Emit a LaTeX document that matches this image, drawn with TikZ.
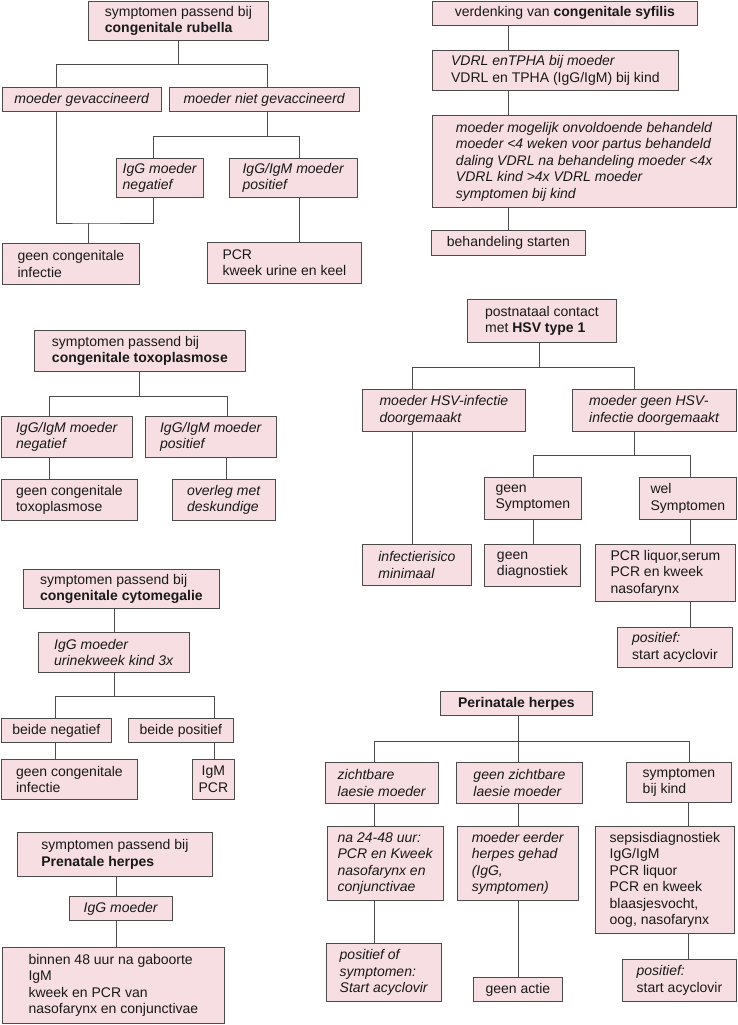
\documentclass[tikz,border=0pt]{standalone}
\usepackage{fontspec}
\setmainfont{Liberation Sans}
\usepackage{xcolor}
\usepackage{tikz}
\usetikzlibrary{positioning,calc}
\definecolor{boxpink}{RGB}{246,222,226}
\definecolor{linegray}{RGB}{75,75,75}
\tikzset{
  box/.style={draw=linegray, fill=boxpink, line width=0.8pt, anchor=north west, align=left, inner sep=0pt, font=\fontsize{14}{16.5}\selectfont, text=black!90},
  link/.style={draw=linegray, line width=0.9pt},
}
\begin{document}
\begin{tikzpicture}[x=1pt,y=1pt,yscale=-1,xscale=1]
\useasboundingbox (0,0) rectangle (737,1025);

%Rubella
\node [box, minimum width=180, minimum height=39] (rub) at (88,1) {symptomen passend bij\\\textbf{congenitale rubella}};
\node [box, minimum width=159, minimum height=24] (gev) at (2,87) {\textit{moeder gevaccineerd}};
\node [box, minimum width=190, minimum height=24] (niet) at (169,87) {\textit{moeder niet gevaccineerd}};
\node [box, minimum width=87, minimum height=39] (neg) at (116,158) {\textit{IgG moeder}\\\textit{negatief}};
\node [box, minimum width=128, minimum height=39] (pos) at (229,158) {\textit{IgG/IgM moeder}\\\textit{positief}};
\node [box, minimum width=137, minimum height=41] (geeninf) at (2,243) {geen congenitale\\infectie};
\node [box, minimum width=154, minimum height=41] (pcr) at (207,242) {PCR\\kweek urine en keel};
\coordinate (rubjoin) at (88,223);
\draw [link] (rub.south) -- ++(0,24) -| ([xshift=54]gev.north west);
\draw [link] (rub.south) -- ++(0,24) -| ([xshift=98]niet.north west);
\draw [link] ([xshift=98]niet.south west) -- ++(0,25) -| ([xshift=37]neg.north west);
\draw [link] ([xshift=98]niet.south west) -- ++(0,25) -| ([xshift=70]pos.north west);
\draw [link] ([xshift=54]gev.south west) |- (rubjoin) -| ([xshift=37]neg.south west);
\draw [link] (rubjoin) -- (rubjoin |- geeninf.north);
\draw [link] ([xshift=70]pos.south west) -- ([xshift=92]pcr.north west);

%Syfilis
\node [box, minimum width=265, minimum height=24] (syf) at (432,1) {verdenking van \textbf{congenitale syfilis}};
\node [box, minimum width=246, minimum height=40] (vdrl) at (432,50) {\textit{VDRL enTPHA bij moeder}\\VDRL en TPHA (IgG/IgM) bij kind};
\node [box, minimum width=304, minimum height=92] (crit) at (432,115) {\textit{moeder mogelijk onvoldoende behandeld}\\\textit{moeder <4 weken voor partus behandeld}\\\textit{daling VDRL na behandeling moeder <4x}\\\textit{VDRL kind >4x VDRL moeder}\\\textit{symptomen bij kind}};
\node [box, minimum width=154, minimum height=25] (start) at (431,230) {behandeling starten};
\draw [link] ([xshift=76]syf.south west) -- ([xshift=76]vdrl.north west);
\draw [link] ([xshift=76]vdrl.south west) -- ([xshift=76]crit.north west);
\draw [link] ([xshift=76]crit.south west) -- ([xshift=77]start.north west);

%Toxoplasmose
\node [box, minimum width=211, minimum height=41] (tox) at (34,330) {symptomen passend bij\\\textbf{congenitale toxoplasmose}};
\node [box, minimum width=131, minimum height=41] (txneg) at (1,416) {\textit{IgG/IgM moeder}\\\textit{negatief}};
\node [box, minimum width=131, minimum height=41] (txpos) at (145,416) {\textit{IgG/IgM moeder}\\\textit{positief}};
\node [box, minimum width=136, minimum height=41] (txgeen) at (1,479) {geen congenitale\\toxoplasmose};
\node [box, minimum width=103, minimum height=41] (txov) at (172,479) {\textit{overleg met}\\\textit{deskundige}};
\draw [link] (tox.south) -- ++(0,25) -| ([xshift=48]txneg.north west);
\draw [link] (tox.south) -- ++(0,25) -| ([xshift=82]txpos.north west);
\draw [link] ([xshift=48]txneg.south west) -- ([xshift=48]txgeen.north west);
\draw [link] ([xshift=81]txpos.south west) -- ([xshift=54]txov.north west);

%HSV type 1
\node [box, minimum width=149, minimum height=43] (hsv) at (467,299) {postnataal contact\\met \textbf{HSV type 1}};
\node [box, minimum width=163, minimum height=42] (hmoe) at (362,389) {\textit{moeder HSV-infectie}\\\textit{doorgemaakt}};
\node [box, minimum width=164, minimum height=42] (hgeen) at (572,389) {\textit{moeder geen HSV-}\\\textit{infectie doorgemaakt}};
\node [box, minimum width=109, minimum height=41] (hrisk) at (362,544) {\textit{infectierisico}\\\textit{minimaal}};
\node [box, minimum width=97, minimum height=42] (hnosym) at (484,477) {geen\\Symptomen};
\node [box, minimum width=97, minimum height=42] (hsym) at (639,477) {wel\\Symptomen};
\node [box, minimum width=96, minimum height=42] (hdiag) at (484,544) {geen\\diagnostiek};
\node [box, minimum width=140, minimum height=57] (hpcr) at (595,544) {PCR liquor,serum\\PCR en kweek\\nasofarynx};
\node [box, minimum width=115, minimum height=40] (hpos) at (617,627) {\textit{positief:}\\start acyclovir};
\draw [link] ([xshift=72]hsv.south west) -- ++(0,25) -| ([xshift=50]hmoe.north west);
\draw [link] ([xshift=72]hsv.south west) -- ++(0,25) -| ([xshift=62]hgeen.north west);
\draw [link] ([xshift=50]hmoe.south west) -- ([xshift=50]hrisk.north west);
\draw [link] ([xshift=62]hgeen.south west) -- ++(0,24) -| ([xshift=49]hnosym.north west);
\draw [link] ([xshift=62]hgeen.south west) -- ++(0,24) -| ([xshift=51]hsym.north west);
\draw [link] ([xshift=49]hnosym.south west) -- ([xshift=49]hdiag.north west);
\draw [link] ([xshift=51]hsym.south west) -- ([xshift=95]hpcr.north west);
\draw [link] ([xshift=95]hpcr.south west) -- ([xshift=73]hpos.north west);

%Cytomegalie
\node [box, minimum width=196, minimum height=39] (cmv) at (23,569) {symptomen passend bij\\\textbf{congenitale cytomegalie}};
\node [box, minimum width=151, minimum height=40] (cigg) at (38,632) {\textit{IgG moeder}\\\textit{urinekweek kind 3x}};
\node [box, minimum width=110, minimum height=24] (cneg) at (1,718) {beide negatief};
\node [box, minimum width=105, minimum height=24] (cpos) at (128,718) {beide positief};
\node [box, minimum width=136, minimum height=40] (cgeen) at (1,759) {geen congenitale\\infectie};
\node [box, minimum width=42, minimum height=40, align=center] (cigm) at (192,759) {IgM\\PCR};
\draw [link] ([xshift=91]cmv.south west) -- ([xshift=76]cigg.north west);
\draw [link] ([xshift=76]cigg.south west) -- ++(0,24) -| ([xshift=54]cneg.north west);
\draw [link] ([xshift=76]cigg.south west) -- ++(0,24) -| ([xshift=86]cpos.north west);
\draw [link] ([xshift=54]cneg.south west) -- ([xshift=54]cgeen.north west);
\draw [link] ([xshift=86]cpos.south west) -- ([xshift=22]cigm.north west);

%Prenatale herpes
\node [box, minimum width=195, minimum height=44] (pre) at (17,832) {symptomen passend bij\\\textbf{Prenatale herpes}};
\node [box, minimum width=103, minimum height=24] (pigg) at (69,896) {\textit{IgG moeder}};
\node [box, minimum width=222, minimum height=76] (pbin) at (2,947) {binnen 48 uur na gaboorte\\IgM\\kweek en PCR van\\nasofarynx en conjunctivae};
\draw [link] ([xshift=99]pre.south west) -- ([xshift=47]pigg.north west);
\draw [link] ([xshift=47]pigg.south west) -- ([xshift=114]pbin.north west);

%Perinatale herpes
\node [box, minimum width=152, minimum height=24] (peri) at (440,691) {\textbf{Perinatale herpes}};
\node [box, minimum width=113, minimum height=41] (nzicht) at (325,762) {\textit{zichtbare}\\\textit{laesie moeder}};
\node [box, minimum width=126, minimum height=41] (ngeen) at (456,762) {\textit{geen zichtbare}\\\textit{laesie moeder}};
\node [box, minimum width=105, minimum height=40] (nsym) at (626,762) {symptomen\\bij kind};
\node [box, minimum width=116, minimum height=74] (nna) at (327,826) {\textit{na 24-48 uur:}\\\textit{PCR en Kweek}\\\textit{nasofarynx en}\\\textit{conjunctivae}};
\node [box, minimum width=121, minimum height=74] (nmoe) at (457,826) {\textit{moeder eerder}\\\textit{herpes gehad}\\\textit{(IgG,}\\\textit{symptomen)}};
\node [box, minimum width=139, minimum height=107] (nsep) at (595,826) {sepsisdiagnostiek\\IgG/IgM\\PCR liquor\\PCR en kweek\\blaasjesvocht,\\oog, nasofarynx};
\node [box, minimum width=115, minimum height=58] (npos) at (326,943) {\textit{positief of}\\\textit{symptomen:}\\\textit{Start acyclovir}};
\node [box, minimum width=89, minimum height=24] (nact) at (473,977) {geen actie};
\node [box, minimum width=114, minimum height=42] (nstart) at (622,959) {\textit{positief:}\\start acyclovir};
\draw [link] ([xshift=78]peri.south west) -- ++(0,26) -| ([xshift=49]nzicht.north west);
\draw [link] ([xshift=78]peri.south west) -- ++(0,26) -| ([xshift=63]nsym.north west);
\draw [link] ([xshift=78]peri.south west) -- ([xshift=62]ngeen.north west);
\draw [link] ([xshift=49]nzicht.south west) -- ([xshift=47]nna.north west);
\draw [link] ([xshift=62]ngeen.south west) -- ([xshift=61]nmoe.north west);
\draw [link] ([xshift=62]nsym.south west) -- ([xshift=93]nsep.north west);
\draw [link] ([xshift=47]nna.south west) -- ([xshift=48]npos.north west);
\draw [link] ([xshift=61]nmoe.south west) -- ([xshift=45]nact.north west);
\draw [link] ([xshift=93]nsep.south west) -- ([xshift=66]nstart.north west);

\end{tikzpicture}
\end{document}
